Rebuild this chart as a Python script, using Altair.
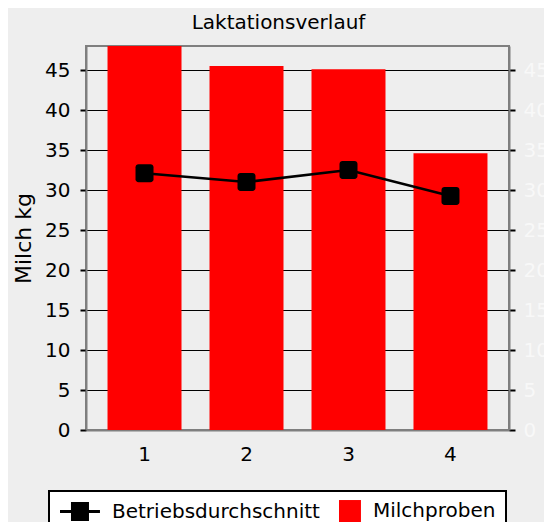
import altair as alt
import pandas as pd

# ---- data ----
probe = ["1", "2", "3", "4"]
milchproben = [48.0, 45.5, 45.1, 34.6]
betriebsdurchschnitt = [32.1, 31.0, 32.5, 29.25]
serien = ["Betriebsdurchschnitt", "Milchproben"]
serien_farben = ["#000000", "#ff0000"]
y_ticks = [0, 5, 10, 15, 20, 25, 30, 35, 40, 45]
y_max = 48

df = pd.DataFrame({
    "Probe": probe,
    "Milchproben": milchproben,
    "Betriebsdurchschnitt": betriebsdurchschnitt,
})
legend_df = pd.DataFrame({"Serie": serien})

FONT = "DejaVu Sans"
LINE_SYM = "M-1,-0.17H3.44V0.17H-1Z M0.22,-1.05H2.22V1.05H0.22Z"
RED_SYM = "M1,-1.22H3.44V1.22H1Z"
ROUND_SQ = ("M-0.67,-1H0.67A0.33,0.33 0 0 1 1,-0.67V0.67A0.33,0.33 0 0 1 0.67,1"
            "H-0.67A0.33,0.33 0 0 1 -1,0.67V-0.67A0.33,0.33 0 0 1 -0.67,-1Z")

x_enc = alt.X(
    "Probe:N", sort=probe,
    scale=alt.Scale(paddingInner=0.2745, paddingOuter=0.211),
    axis=alt.Axis(title=None, labelAngle=0, ticks=False, labelPadding=14,
                  labelFontSize=20, labelFont=FONT, labelColor="black",
                  domainColor="#7f7f7f", domainWidth=2),
)
y_scale = alt.Scale(domain=[0, y_max], nice=False)

left_axis = alt.Axis(
    values=y_ticks, title="Milch kg", titleFont=FONT, titleFontSize=22,
    titleFontWeight="normal", titleColor="black", titlePadding=9,
    labelFont=FONT, labelFontSize=20, labelColor="black", labelPadding=10,
    tickColor="black", tickWidth=2, tickSize=6,
    grid=True, gridColor="#000000", gridWidth=1,
    domainColor="#7f7f7f", domainWidth=2,
)
right_axis = alt.Axis(
    orient="right", values=y_ticks, title=None,
    labelFont=FONT, labelFontSize=20, labelColor="#f8f8f8", labelPadding=8,
    tickColor="black", tickWidth=2, tickSize=6, grid=False,
    domainColor="#7f7f7f", domainWidth=2,
)

bars = alt.Chart(df).mark_bar(color="#ff0000").encode(
    x=x_enc,
    y=alt.Y("Milchproben:Q", scale=y_scale, axis=left_axis),
)
line = alt.Chart(df).mark_line(color="black", strokeWidth=2.5).encode(
    x=x_enc,
    y=alt.Y("Betriebsdurchschnitt:Q", scale=y_scale, axis=None),
)
points = alt.Chart(df).mark_point(
    filled=True, color="black", size=324, shape=ROUND_SQ, opacity=1, strokeWidth=0
).encode(
    x=x_enc,
    y=alt.Y("Betriebsdurchschnitt:Q", scale=y_scale, axis=right_axis),
)

leg = alt.Legend(
    title=None, orient="none", legendX=-37, legendY=445, direction="horizontal",
    labelFontSize=20, labelFont=FONT, labelColor="black", labelLimit=400,
    symbolSize=324, symbolStrokeWidth=0, symbolOpacity=1,
    labelOffset=33, columnPadding=0, padding=10,
    strokeColor="black", fillColor="white",
)
carrier = alt.Chart(legend_df).mark_point(filled=True, opacity=0).encode(
    color=alt.Color("Serie:N", scale=alt.Scale(domain=serien, range=serien_farben), legend=leg),
    shape=alt.Shape("Serie:N", scale=alt.Scale(domain=serien, range=[LINE_SYM, RED_SYM]), legend=leg),
)

chart = (
    alt.layer(bars, line, points, carrier)
    .resolve_axis(y="independent")
    .properties(
        width=423, height=384,
        title=alt.TitleParams("Laktationsverlauf", fontSize=20, fontWeight="normal",
                              font=FONT, color="black", anchor="middle", frame="group",
                              dx=-19, offset=13),
        padding={"left": 78, "top": 38, "right": 35, "bottom": 92},
        autosize=alt.AutoSizeParams(type="none"),
        background="#eeeeee",
    )
    .configure_view(fill="white", stroke="#7f7f7f", strokeWidth=2)
    .configure_legend(strokeWidth=2)
)

chart.save("out.html", embed_options={"renderer": "svg", "actions": False})
